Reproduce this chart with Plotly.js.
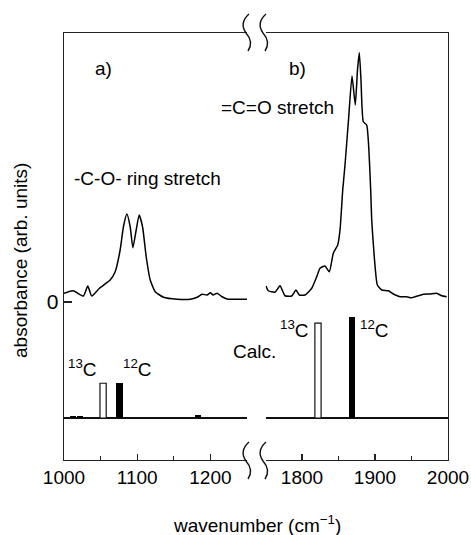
<!DOCTYPE html>
<html>
<head>
<meta charset="utf-8">
<script src="https://cdn.plot.ly/plotly-3.0.1.min.js"></script>
<style>html,body{margin:0;padding:0;background:#fff;}#chart{width:471px;height:535px;}</style>
</head>
<body>
<div id="chart"></div>
<script>
// Measured spectrum, region a) (-C-O- ring stretch)
const waveA = [1000,1012.7,1026.4,1032.5,1037.9,1048.4,1063,1069.9,1076.7,1081.2,1085.9,1090.4,1094.1,1098.6,1102.7,1107.3,1112.3,1117.8,1124.7,1136,1154.4,1172.6,1181.8,1188.6,1195.5,1200,1203.7,1209.2,1216,1222.9,1250];
const absA  = [0.035,0.045,0.024,0.064,0.024,0.055,0.088,0.121,0.208,0.301,0.352,0.301,0.217,0.288,0.348,0.301,0.181,0.088,0.041,0.019,0.011,0.011,0.019,0.031,0.028,0.037,0.028,0.035,0.021,0.012,0.011];
// Measured spectrum, region b) (=C=O stretch)
const waveB = [1750.7,1753.8,1763,1769.9,1776.7,1785.9,1791.8,1796.3,1804.1,1813.3,1820.1,1824.7,1831.5,1837.4,1842.9,1848.9,1852.1,1855.8,1858.9,1863.7,1868.5,1873,1876,1878.5,1880.8,1884,1888.6,1890.8,1894.1,1895.5,1899,1903.2,1909.2,1918.2,1925.1,1934.2,1943.4,1950.3,1966.2,1975.3,1984.5,1991.4,1998.2];
const absB  = [0.064,0.045,0.039,0.065,0.025,0.024,0.048,0.028,0.028,0.055,0.101,0.135,0.144,0.121,0.195,0.228,0.288,0.448,0.548,0.728,0.904,0.788,0.928,0.997,0.888,0.721,0.708,0.648,0.448,0.328,0.181,0.068,0.048,0.045,0.032,0.021,0.021,0.017,0.031,0.032,0.035,0.025,0.021];
// Calculated intensities
const calc13A_x = [1053.4];       const calc13A_y = [0.344];
const calc12A_x = [1012,1022,1075.8,1183.5]; const calc12A_y = [0.02,0.02,0.35,0.03];
const calc13B_x = [1821.9];       const calc13B_y = [0.94];
const calc12B_x = [1869];         const calc12B_y = [1.0];
// Axis ticks
const ticksA = [1000,1100,1200], minorA = [1050,1150];
const ticksB = [1800,1900,2000], minorB = [1850,1950];

const W = 471, H = 535, L = 64, R = 23, T = 33, B = 75;
const pw = W - L - R, ph = H - T - B;
const px = x => (x - L) / pw;
const py = y => (H - B - y) / ph;
const FONT = 'Liberation Sans, Arial, sans-serif';

const specLine = {color:'#000', width:1.5, shape:'spline', smoothing:0.5};
const traces = [
  {type:'scatter', mode:'lines', x:waveA, y:absA, xaxis:'x', yaxis:'y', line:specLine, hoverinfo:'skip'},
  {type:'scatter', mode:'lines', x:waveB, y:absB, xaxis:'x2', yaxis:'y', line:specLine, hoverinfo:'skip'},
  {type:'bar', x:calc13A_x, y:calc13A_y, xaxis:'x', yaxis:'y2', width:8.5, marker:{color:'#fff', line:{color:'#111', width:1.2}}},
  {type:'bar', x:calc12A_x, y:calc12A_y, xaxis:'x', yaxis:'y2', width:8.5, marker:{color:'#000', line:{width:0}}},
  {type:'bar', x:calc13B_x, y:calc13B_y, xaxis:'x2', yaxis:'y2', width:8.5, marker:{color:'#fff', line:{color:'#111', width:1.2}}},
  {type:'bar', x:calc12B_x, y:calc12B_y, xaxis:'x2', yaxis:'y2', width:8.5, marker:{color:'#000', line:{width:0}}},
  {type:'scatter', mode:'lines', x:[], y:[], xaxis:'x2', yaxis:'y3', hoverinfo:'skip'}
];

const yRange = [-0.632, 1.076];
const y2Range = [-0.416, 3.812];
const axCommon = {showgrid:false, zeroline:false, showline:true, linecolor:'#222', linewidth:1.3,
  ticks:'inside', ticklen:6, tickwidth:1.2, tickcolor:'#222', tickfont:{family:FONT, size:19, color:'#000'}};

const layout = {
  width:W, height:H, margin:{l:L, r:R, t:T, b:B}, showlegend:false,
  paper_bgcolor:'#fff', plot_bgcolor:'#fff', barmode:'overlay', bargap:0,
  font:{family:FONT, color:'#000'},
  xaxis: Object.assign({}, axCommon, {domain:[0, px(247)], range:[1000,1250], tickmode:'array', tickvals:ticksA, mirror:true, anchor:'y',
    minor:{tickmode:'array', tickvals:minorA, ticks:'inside', ticklen:4, tickcolor:'#222'}}),
  xaxis2: Object.assign({}, axCommon, {domain:[px(265.5), 1], range:[1750,2000], tickmode:'array', tickvals:ticksB, mirror:true, anchor:'y',
    minor:{tickmode:'array', tickvals:minorB, ticks:'inside', ticklen:4, tickcolor:'#222'}}),
  yaxis: Object.assign({}, axCommon, {range:yRange, anchor:'x', tickmode:'array', tickvals:[0], ticktext:['0'], ticklen:8,
    tickfont:{family:FONT, size:21, color:'#000'}}),
  yaxis2: {overlaying:'y', anchor:'x', range:y2Range, showgrid:false, showline:false, ticks:'', showticklabels:false,
    zeroline:true, zerolinecolor:'#111', zerolinewidth:1.5},
  yaxis3: {overlaying:'y', anchor:'x2', side:'right', range:yRange, showgrid:false, zeroline:false, showline:true,
    linecolor:'#222', linewidth:1.3, ticks:'', showticklabels:false},
  annotations: [
    {text:'a)', x:px(103), y:py(68)},
    {text:'b)', x:px(297), y:py(68)},
    {text:'=C=O stretch', x:px(277), y:py(108)},
    {text:'-C-O- ring stretch', x:px(147.5), y:py(178)},
    {text:'<sup>13</sup>C', x:px(82.5), y:py(368)},
    {text:'<sup>12</sup>C', x:px(137.5), y:py(368)},
    {text:'<sup>13</sup>C', x:px(294), y:py(329)},
    {text:'<sup>12</sup>C', x:px(374), y:py(329)},
    {text:'Calc.', x:px(254), y:py(351)},
    {text:'absorbance (arb. units)', x:px(20), y:py(261), textangle:-90},
    {text:'wavenumber (cm<sup>\u22121</sup>)', x:px(257), y:py(524)}
  ].map(a => Object.assign({xref:'paper', yref:'paper', showarrow:false, xanchor:'center', yanchor:'middle',
    font:{family:FONT, size:19, color:'#000'}}, a)),
  shapes: []
};

// axis break marks (decorative squiggles)
function squiggle(x0, yc){
  const p = (x, y) => px(x).toFixed(5) + ',' + py(y).toFixed(5);
  return {type:'path', xref:'paper', yref:'paper', line:{color:'#111', width:1.4},
    path:'M ' + p(x0+2, yc-19) + ' Q ' + p(x0-8, yc-10) + ' ' + p(x0-1, yc) + ' Q ' + p(x0+7, yc+9) + ' ' + p(x0+1, yc+18)};
}
layout.shapes.push(squiggle(247, 33), squiggle(264, 33), squiggle(247, 461), squiggle(264, 461));

Plotly.newPlot('chart', traces, layout, {staticPlot:true, displayModeBar:false});
</script>
</body>
</html>
